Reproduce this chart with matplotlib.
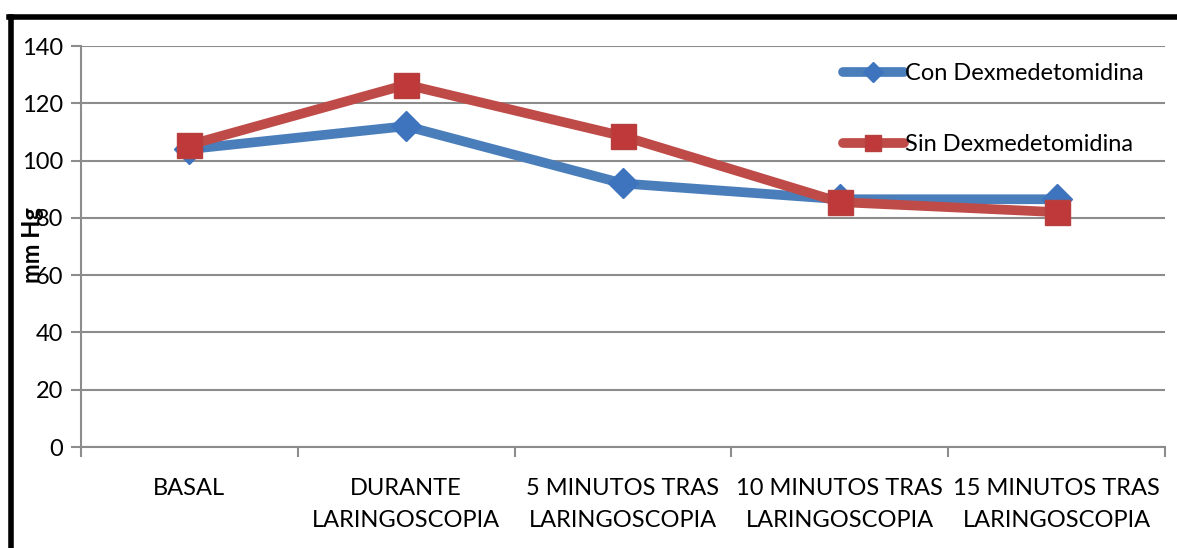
import matplotlib
matplotlib.use("Agg")
import matplotlib.pyplot as plt
from matplotlib.lines import Line2D
from matplotlib.ticker import FixedLocator

plt.rcParams['font.family'] = ['Lato', 'DejaVu Sans']

categorias = ["BASAL", "DURANTE\nLARINGOSCOPIA", "5 MINUTOS TRAS\nLARINGOSCOPIA",
              "10 MINUTOS TRAS\nLARINGOSCOPIA", "15 MINUTOS TRAS\nLARINGOSCOPIA"]
con_dex = [104, 112, 92, 86.5, 86.5]
sin_dex = [105.5, 126.5, 108.5, 85.5, 82]
y_ticks = [0, 20, 40, 60, 80, 100, 120, 140]

fig = plt.figure(figsize=(11.77, 5.48), dpi=100)
ax = fig.add_axes([81/1177, 1-447/548, (1165-81)/1177, (447-46)/548])

x = list(range(len(categorias)))
ax.plot(x, con_dex, color='#4A7EBB', lw=7, marker='D', markersize=15,
        markerfacecolor='#3E74BE', markeredgecolor='#3E74BE',
        solid_capstyle='round', label='Con Dexmedetomidina', zorder=3)
ax.plot(x, sin_dex, color='#BE4B48', lw=7, marker='s', markersize=18,
        markerfacecolor='#C0393A', markeredgecolor='#B5403D',
        solid_capstyle='round', label='Sin Dexmedetomidina', zorder=4)

ax.set_xlim(-0.5, len(categorias) - 0.5)
ax.set_ylim(0, 140)
ax.set_yticks(y_ticks)
ax.yaxis.grid(True, color='#8C8C8C', lw=1.5)
ax.set_axisbelow(True)
ax.set_xticks(x)
ax.set_xticklabels(categorias, fontsize=17, linespacing=1.7)
ax.tick_params(axis='x', length=0, pad=22)
ax.xaxis.set_minor_locator(FixedLocator([i - 0.5 for i in range(len(categorias) + 1)]))
ax.tick_params(axis='x', which='minor', length=7, width=1.5, color='#8C8C8C')
ax.tick_params(axis='y', length=7, width=1.5, color='#8C8C8C', labelsize=17, pad=6)
for s in ['top', 'right']:
    ax.spines[s].set_visible(False)
for s in ['left', 'bottom']:
    ax.spines[s].set_color('#8C8C8C')
    ax.spines[s].set_linewidth(1.5)

leg = ax.legend(loc='upper right', bbox_to_anchor=(1.0, 1.01), frameon=False,
                fontsize=17, handlelength=2.6, handletextpad=0.05, labelspacing=2.1,
                markerscale=0.65)

fig.text(33/1177, 1-245/548, 'mm Hg', rotation=90, fontsize=17, fontweight='bold',
         ha='center', va='center')

fig.add_artist(Line2D([11/1177, 11/1177], [0, 1-17/548], color='black', lw=4,
                      transform=fig.transFigure))
fig.add_artist(Line2D([9/1177, 1], [1-17/548, 1-17/548], color='black', lw=4,
                      transform=fig.transFigure))

fig.savefig('out.png', dpi=100)
